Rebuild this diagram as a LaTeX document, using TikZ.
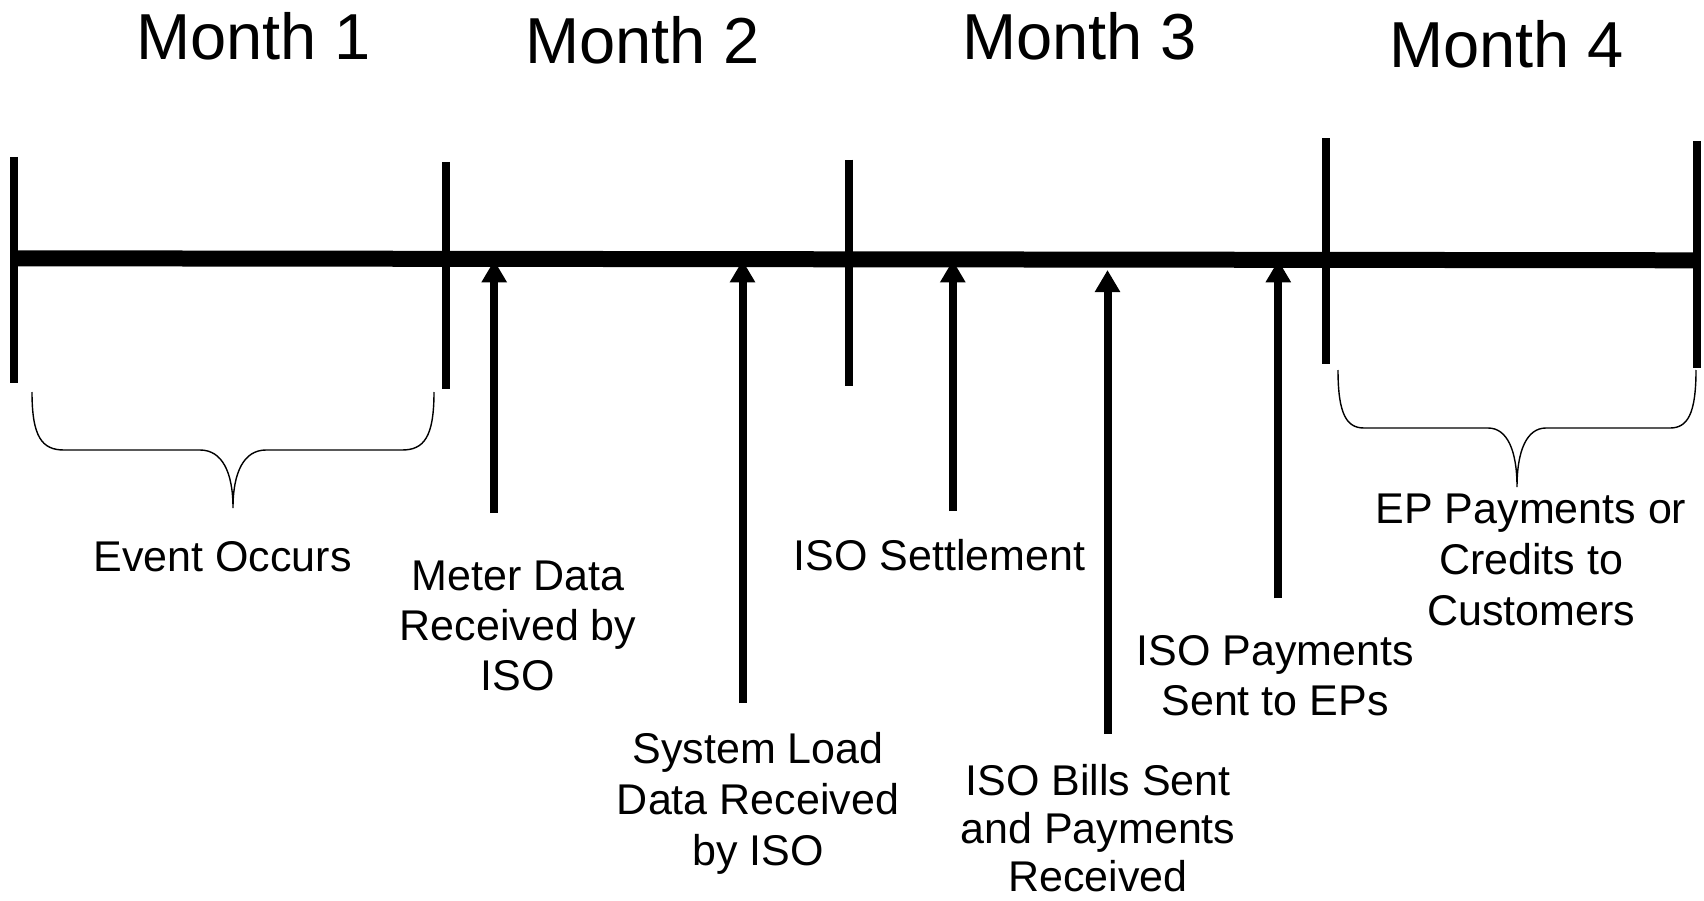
\documentclass[tikz,border=0pt]{standalone}
\usepackage{fontspec}
\setmainfont{Liberation Sans}
\usetikzlibrary{arrows.meta}
% stacked, centred lines whose baseline is the first line
\newcommand\labellines[1]{\begin{tabular}[t]{@{}c@{}}#1\end{tabular}}
\begin{document}
\begin{tikzpicture}[x=1pt,y=-1pt,
  timeline/.style={line width=16pt},
  tickmark/.style={line width=8pt},
  evarrow/.style={line width=8pt,-{Triangle[width=24pt,length=22pt]}},
  bracestroke/.style={line width=1.4pt},
  month/.style={inner sep=0pt,anchor=base west,font=\fontsize{65pt}{78pt}\selectfont},
  lbl/.style={inner sep=0pt,anchor=base,font=\fontsize{43pt}{50pt}\selectfont},
]
\useasboundingbox (0,0) rectangle (1704,901);

% month headings
\node[month] (m1) at (136,59.3) {Month 1};
\node[month] (m2) at (525,64) {Month 2};
\node[month] (m3) at (962,60) {Month 3};
\node[month] (m4) at (1389,68) {Month 4};

% month boundaries
\draw[tickmark] (14,157) -- (14,383);
\draw[tickmark] (446.3,162) -- (446.3,388.7);
\draw[tickmark] (848.7,159.7) -- (848.7,385.8);
\draw[tickmark] (1326.3,138.3) -- (1326.3,364.3);
\draw[tickmark] (1697,141) -- (1697,367.7);

% arrow end points
\coordinate (a1b) at (494.2,513);   \coordinate (a1t) at (494.2,260.3);
\coordinate (a2b) at (742.5,703);   \coordinate (a2t) at (742.5,260.3);
\coordinate (a3b) at (952.8,511);   \coordinate (a3t) at (952.8,260.3);
\coordinate (a4b) at (1107.5,733.5);\coordinate (a4t) at (1107.5,270);
\coordinate (a5b) at (1278.3,598.3);\coordinate (a5t) at (1278.3,260.3);

\draw[evarrow] (a1b) -- (a1t);
\draw[evarrow] (a2b) -- (a2t);
\draw[evarrow] (a3b) -- (a3t);
\draw[evarrow] (a4b) -- (a4t);
\draw[evarrow] (a5b) -- (a5t);

% the time axis
\coordinate (tstart) at (14,258.3);
\coordinate (tend) at (1697,260.3);
\draw[timeline] (tstart) -- (tend);

% braces
\draw[bracestroke] (32,392) .. controls (32,437) and (42,450) .. (64,450) -- (200,450)
  .. controls (222,450) and (233,472) .. (233,508)
  .. controls (233,472) and (244,450) .. (266,450) -- (402,450)
  .. controls (424,450) and (434,437) .. (434,392);
\draw[bracestroke] (1338,370) .. controls (1338,415) and (1347,428) .. (1364,428) -- (1488,428)
  .. controls (1507,428) and (1517,450) .. (1517,487)
  .. controls (1517,450) and (1527,428) .. (1546,428) -- (1670,428)
  .. controls (1687,428) and (1696,415) .. (1696,370);

% event labels
\node[lbl] (ev) at (222.5,571) {Event Occurs};
\node[lbl] (meter) at (518,590) {\labellines{Meter Data\\Received by\\ISO}};
\node[lbl,font=\fontsize{43pt}{51pt}\selectfont] (sysload) at (758,763.3) {\labellines{System Load\\Data Received\\by ISO}};
\node[lbl] (settle) at (939.5,570.7) {ISO Settlement};
\node[lbl,font=\fontsize{43pt}{48.3pt}\selectfont] (bills) at (1098,795) {\labellines{ISO Bills Sent\\and Payments\\Received}};
\node[lbl] (isopay) at (1275,665) {\labellines{ISO Payments\\Sent to EPs}};
\node[lbl,font=\fontsize{43pt}{51pt}\selectfont] (epcust) at (1531,523) {\labellines{EP Payments or\\Credits to\\Customers}};
\end{tikzpicture}
\end{document}
